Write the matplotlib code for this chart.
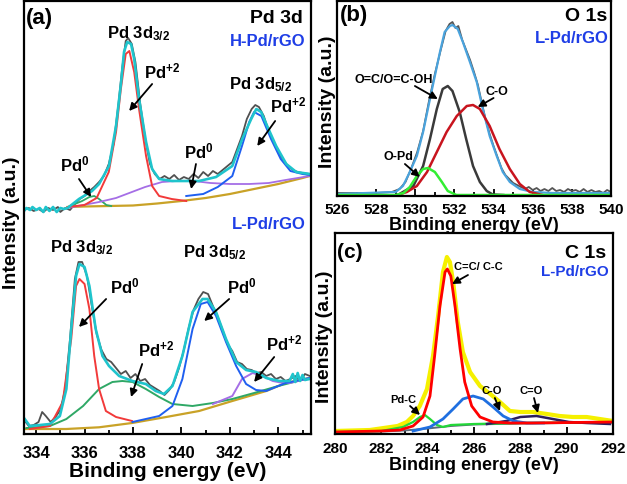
import matplotlib
matplotlib.use("Agg")
import matplotlib.pyplot as plt
from matplotlib.ticker import MultipleLocator

plt.rcParams['font.family'] = ['Liberation Sans', 'DejaVu Sans']
plt.rcParams['font.weight'] = 'bold'
plt.rcParams['mathtext.fontset'] = 'custom'
plt.rcParams['mathtext.rm'] = 'Liberation Sans:bold'
plt.rcParams['mathtext.bf'] = 'Liberation Sans:bold'
plt.rcParams['mathtext.default'] = 'rm'

# ---------------- (a) Pd 3d, H-Pd/rGO (upper spectrum) ----------------
h_raw_e = [333.5, 333.7, 333.9, 334.1, 334.3, 334.5, 334.7, 334.9, 335.0, 335.2, 335.4, 335.6, 335.8,
           336.0, 336.2, 336.4, 336.6, 336.8, 337.0, 337.2, 337.4, 337.55, 337.7, 337.8, 337.95, 338.1,
           338.3, 338.5, 338.7, 338.9, 339.1, 339.3, 339.5, 339.7, 339.9, 340.1, 340.3, 340.5, 340.7,
           340.9, 341.1, 341.3, 341.5, 341.7, 341.9, 342.1, 342.3, 342.5, 342.7, 342.9, 343.05, 343.2,
           343.4, 343.6, 343.8, 344.0, 344.2, 344.4, 344.6, 344.8, 345.0, 345.3]
h_raw_i = [224, 226, 223, 225, 222, 226, 224, 227, 222, 226, 224, 230, 235,
           238, 243, 247, 252, 258, 270, 290, 330, 365, 393, 396, 390, 372,
           330, 296, 270, 260, 255, 258, 255, 259, 254, 257, 255, 260, 256,
           262, 258, 263, 260, 264, 268, 272, 285, 298, 315, 325, 329, 327,
           318, 303, 292, 282, 274, 268, 264, 262, 261, 260]

h_fit_e = [333.5, 333.6, 333.75, 333.85, 334.0, 334.15, 334.3, 334.4, 334.55, 334.7, 334.85, 335.0,
           335.15, 335.3, 335.77, 336.31, 336.6, 337.01, 337.3, 337.51, 337.63, 337.76, 337.92, 338.05,
           338.25, 338.54, 338.79, 339.08, 339.62, 340.73, 341.43, 342.1, 342.51, 342.88, 343.09,
           343.29, 343.54, 343.91, 344.33, 344.74, 345.3]
h_fit_i = [223, 226, 224, 227, 224, 226, 222, 227, 223, 227, 222, 226,
           225, 226, 235, 243, 250, 268, 308, 352, 382, 392, 390, 375,
           335, 292, 265, 255, 253, 253, 257, 268, 295, 315, 325,
           322, 308, 288, 270, 262, 260]

h_red_e = [335.3, 336.0, 336.5, 337.0, 337.3, 337.5, 337.7, 337.85, 338.05, 338.25, 338.54, 338.79,
           339.08, 339.6, 340.2]
h_red_i = [227, 229, 236, 262, 302, 345, 380, 383, 362, 325, 278, 248, 238, 235, 233]

h_green_e = [335.3, 335.9, 336.2, 336.4, 336.6, 336.9, 337.1]
h_green_i = [227, 233, 237, 238, 235, 229, 228]

h_purple_e = [335.3, 336.6, 337.3, 338.5, 339.2, 339.8, 340.5, 341.2, 342.0, 342.8, 343.6, 344.3, 345.3]
h_purple_i = [226, 232, 236, 247, 252, 253, 253, 251, 250, 250, 251, 254, 258]

h_blue_e = [340.2, 340.9, 341.5, 342.1, 342.5, 342.8, 343.0, 343.3, 343.7, 344.1, 344.5, 345.0, 345.3]
h_blue_i = [238, 240, 247, 258, 288, 312, 322, 318, 295, 275, 263, 260, 259]

h_base_e = [335.3, 336.0, 337.0, 338.0, 339.0, 340.0, 341.0, 342.0, 343.0, 344.0, 345.0, 345.3]
h_base_i = [227, 227.5, 228, 228.5, 230.5, 233, 236, 240, 245, 250, 256, 258]

# ---------------- (a) Pd 3d, L-Pd/rGO (lower spectrum) ----------------
l_raw_e = [333.5, 333.7, 333.9, 334.1, 334.25, 334.4, 334.6, 334.8, 335.0, 335.2, 335.4, 335.6, 335.75,
           335.9, 336.1, 336.3, 336.5, 336.7, 336.9, 337.1, 337.3, 337.5, 337.7, 337.9, 338.1, 338.3,
           338.5, 338.7, 338.9, 339.1, 339.3, 339.5, 339.7, 339.9, 340.1, 340.3, 340.5, 340.7, 340.9,
           341.1, 341.3, 341.5, 341.7, 341.9, 342.1, 342.3, 342.5, 342.7, 342.9, 343.1, 343.3, 343.5,
           343.7, 343.9, 344.1, 344.3, 344.5, 344.7, 344.9, 345.1, 345.3]
l_raw_i = [14, 8, 9, 12, 22, 18, 12, 17, 24, 45, 95, 155, 172,
           172, 158, 128, 100, 84, 75, 72, 66, 60, 63, 56, 60, 53,
           55, 49, 46, 43, 39, 44, 52, 66, 84, 106, 124, 135, 142,
           140, 128, 117, 104, 90, 83, 72, 70, 65, 64, 61, 62, 58,
           60, 55, 57, 53, 55, 58, 53, 60, 58]

l_fit_e = [333.53, 333.74, 333.88, 334.57, 334.98, 335.25, 335.45, 335.65, 335.79, 336.0, 336.2, 336.46,
           336.74, 337.01, 337.43, 337.98, 338.53, 338.94, 339.28, 339.63, 340.04, 340.46, 340.87,
           341.08, 341.43, 341.84, 342.26, 342.67, 343.08, 343.5, 344.05, 344.46, 344.6, 344.7, 344.8,
           344.9, 345.0, 345.1, 345.29]
l_fit_i = [15, 8, 8.3, 10, 18, 45, 105, 158, 170, 167, 148, 105,
           78, 68, 58, 53, 50, 43, 40, 48, 78, 122, 135,
           135, 122, 95, 72, 64, 62, 56, 53, 53, 60, 52, 61, 53, 59, 54, 55]

l_red_e = [333.74, 334.57, 335.1, 335.45, 335.65, 335.79, 336.0, 336.2, 336.4, 336.6, 336.88, 337.3, 337.96]
l_red_i = [5, 8, 32, 95, 148, 155, 150, 125, 78, 45, 23, 17, 13]

l_green_e = [333.6, 334.57, 335.25, 335.94, 336.6, 337.15, 337.56, 337.98, 338.53, 339.08, 339.63,
             340.46, 341.3, 342.1, 343.0, 344.0, 345.3]
l_green_i = [6, 8, 15, 28, 45, 52, 53, 52, 45, 37, 30, 28, 31, 35, 41, 48, 56]

l_blue_e = [337.98, 339.08, 339.63, 340.04, 340.46, 340.8, 341.08, 341.43, 341.84, 342.26, 342.67,
            343.08, 343.5, 344.3, 345.3]
l_blue_i = [12, 18, 28, 55, 105, 130, 132, 118, 92, 68, 50, 44, 43, 51, 56]

l_purple_e = [341.3, 342.1, 342.5, 342.94, 343.36, 343.77, 344.2, 344.46, 345.3]
l_purple_i = [30, 38, 55, 61, 58, 53, 51, 51, 56]

l_base_e = [333.53, 335.24, 336.6, 337.96, 339.37, 340.73, 342.1, 343.5, 344.3, 345.28]
l_base_i = [5, 5, 6.7, 11, 17, 23, 33, 43, 51, 56]

# ---------------- (b) O 1s ----------------
o_raw_e = [526, 527, 528, 528.8, 529.2, 529.5, 529.8, 530.1, 530.4, 530.7, 531.0, 531.3, 531.55, 531.75,
           531.9, 532.05, 532.2, 532.4, 532.6, 532.8, 533.0, 533.2, 533.4, 533.6, 533.8, 534.0, 534.2,
           534.4, 534.6, 534.8, 535.0, 535.2, 535.4, 535.6, 535.8, 536.0, 536.2, 536.4, 536.6, 536.8,
           537.0, 537.2, 537.4, 537.6, 537.8, 538.0, 538.2, 538.4, 538.6, 538.8, 539.0, 539.2, 539.4,
           539.6, 539.8, 540]
o_raw_i = [3, 3, 3, 4, 7, 14, 28, 44, 65, 95, 122, 146, 165, 172,
           174, 168, 170, 156, 146, 136, 124, 111, 93, 76, 62, 50, 39,
           28, 21, 17, 13, 11, 9, 7, 9, 6, 8, 5, 7, 5,
           8, 5, 6, 4, 7, 5, 6, 4, 7, 4, 6, 4, 5,
           3, 6, 4]

o_fit_e = [526, 529.0, 529.37, 529.72, 530.08, 530.4, 530.75, 531.0, 531.26, 531.5, 531.77, 531.9,
           532.17, 532.43, 532.79, 533.14, 533.45, 533.8, 534.16, 534.47, 534.83, 535.34, 536.0, 537, 540]
o_fit_i = [2, 4, 10, 24, 40, 64, 97, 120, 144, 164, 170, 171,
           167, 154, 134, 114, 87, 60, 40, 24, 14, 7, 4, 3, 3]

o_black_e = [529.1, 529.9, 530.4, 530.75, 531.1, 531.4, 531.66, 531.9, 532.27, 532.6, 532.95, 533.3,
             533.65, 533.96, 534.5]
o_black_i = [1, 10, 30, 57, 87, 107, 110, 105, 84, 57, 30, 14, 5, 1.5, 1]

o_red_e = [529.1, 529.57, 530.08, 530.6, 531.1, 531.6, 532.12, 532.63, 532.95, 533.3, 533.8, 534.3,
           534.83, 535.34, 535.85, 536.5]
o_red_i = [1, 4, 10, 24, 44, 64, 80, 90, 91, 87, 70, 47, 27, 12, 4, 1]

o_green_e = [526, 529.0, 529.4, 529.72, 530.08, 530.4, 530.65, 531.0, 531.36, 531.66, 532.1, 540]
o_green_i = [1, 1, 3, 9, 20, 27, 28, 24, 14, 5, 1, 1]

# ---------------- (c) C 1s ----------------
c_fit_e = [280.0, 281.5, 282.7, 283.1, 283.37, 283.66, 283.97, 284.23, 284.45, 284.66, 284.83, 284.96,
           285.1, 285.3, 285.52, 285.83, 286.26, 286.7, 287.12, 287.55, 288.0, 288.55, 289.15, 289.7,
           290.27, 290.86, 291.43, 292.0]
c_fit_i = [3, 4, 8, 12, 18, 28, 45, 78, 118, 162, 177, 172,
           152, 112, 82, 62, 48, 40, 32, 23, 22, 22, 20, 18,
           17, 17, 15, 13]

c_red_e = [280.0, 282.0, 282.8, 283.37, 283.8, 284.1, 284.3, 284.53, 284.75, 284.85, 285.0, 285.18, 285.4,
           285.6, 285.9, 286.26, 286.82, 287.55, 288.5, 292.0]
c_red_i = [2, 3, 4, 8, 17, 38, 78, 128, 162, 165, 158, 128, 85,
           52, 28, 17, 12, 11, 11, 12]

c_blue_e = [283.37, 284.1, 284.66, 285.1, 285.52, 285.96, 286.4, 286.82, 287.26, 287.7, 288.28, 289.0]
c_blue_i = [3, 7, 15, 25, 35, 38, 35, 27, 18, 13, 11, 11]

c_navy_e = [286.56, 287.4, 288.0, 288.7, 289.4, 290.1, 290.86, 291.87]
c_navy_i = [10, 13, 17, 18, 15, 12, 11, 10]

c_green_e = [280.0, 282.0, 282.93, 283.37, 283.67, 283.88, 284.1, 284.4, 284.66, 285.0, 286.0, 288.0,
             290.0, 292.0]
c_green_i = [2, 3, 7, 12, 17, 19, 15, 9, 7, 9, 10, 11, 11.5, 12]

c_base_e = [280.0, 282.0, 283.0, 284.0, 285.0, 286.0, 288.0, 290.0, 292.0]
c_base_i = [1.5, 2.5, 3.5, 5.5, 8, 9.5, 10.5, 11, 11.5]

BLUE_TXT = '#1f3ee6'
ARROW = dict(arrowstyle='-|>', color='black', lw=1.3, mutation_scale=11, shrinkA=0, shrinkB=0)


def style_axis(ax, xlo, xhi, ylo, yhi, tick_size, pad):
    ax.set_xlim(xlo, xhi)
    ax.set_ylim(ylo, yhi)
    ax.xaxis.set_major_locator(MultipleLocator(2))
    ax.xaxis.set_minor_locator(MultipleLocator(1))
    ax.set_yticks([])
    ax.tick_params(axis='x', which='both', direction='in', top=False, pad=pad,
                   labelsize=tick_size, width=1.3)
    ax.tick_params(axis='x', which='major', length=5)
    ax.tick_params(axis='x', which='minor', length=3)
    for s in ax.spines.values():
        s.set_linewidth(1.6)
    for lab in ax.get_xticklabels():
        lab.set_fontweight('bold')


def note(ax, text, xy_text, xy_head, xy_tail, size=12):
    ax.text(*xy_text, text, fontsize=size, fontweight='bold', ha='center', va='center')
    ax.annotate('', xy=xy_head, xytext=xy_tail, arrowprops=ARROW)


fig = plt.figure(figsize=(6.27, 4.85), dpi=100)
ax_a = fig.add_axes([24 / 627, 50 / 485, 287 / 627, 433 / 485])
ax_b = fig.add_axes([337 / 627, 288 / 485, 274 / 627, 195 / 485])
ax_c = fig.add_axes([335 / 627, 50 / 485, 278 / 627, 201 / 485])

# ---- panel (a)
ax = ax_a
ax.plot(h_raw_e, h_raw_i, color='#505050', lw=1.3)
ax.plot(h_base_e, h_base_i, color='#c9a227', lw=1.6)
ax.plot(h_green_e, h_green_i, color='#2fa866', lw=1.3)
ax.plot(h_purple_e, h_purple_i, color='#a56ee6', lw=1.3)
ax.plot(h_red_e, h_red_i, color='#f23a3a', lw=1.4)
ax.plot(h_blue_e, h_blue_i, color='#1f5ff0', lw=1.4)
ax.plot(h_fit_e, h_fit_i, color='#1fc4cc', lw=1.9)

ax.plot(l_raw_e, l_raw_i, color='#505050', lw=1.3)
ax.plot(l_base_e, l_base_i, color='#c9a227', lw=1.6)
ax.plot(l_green_e, l_green_i, color='#2fa866', lw=1.4)
ax.plot(l_purple_e, l_purple_i, color='#a56ee6', lw=1.4)
ax.plot(l_red_e, l_red_i, color='#f23a3a', lw=1.4)
ax.plot(l_blue_e, l_blue_i, color='#1f5ff0', lw=1.4)
ax.plot(l_fit_e, l_fit_i, color='#1fc4cc', lw=1.9)

style_axis(ax, 333.5, 345.35, 0, 433, 12, 8)
ax.set_xlabel('Binding energy (eV)', fontsize=15, fontweight='bold')
ax.xaxis.set_label_coords(0.5, -0.062)
ax.set_ylabel('Intensity (a.u.)', fontsize=14, fontweight='bold')
ax.yaxis.set_label_coords(-0.014, 0.49)

ax.text(0.005, 0.962, '(a)', transform=ax.transAxes, fontsize=16, fontweight='bold', ha='left', va='center')
ax.text(0.973, 0.963, 'Pd 3d', transform=ax.transAxes, fontsize=14, fontweight='bold', ha='right', va='center')
ax.text(0.98, 0.908, 'H-Pd/rGO', transform=ax.transAxes, fontsize=12, fontweight='bold',
        color=BLUE_TXT, ha='right', va='center')
ax.text(0.98, 0.487, 'L-Pd/rGO', transform=ax.transAxes, fontsize=12, fontweight='bold',
        color=BLUE_TXT, ha='right', va='center')

ax.text(338.25, 401, 'Pd 3d$_{3/2}$', fontsize=12, fontweight='bold', ha='center', va='center')
ax.text(343.25, 350, 'Pd 3d$_{5/2}$', fontsize=12, fontweight='bold', ha='center', va='center')
note(ax, 'Pd$^{+2}$', (339.2, 364), (337.84, 323), (338.79, 350))
note(ax, 'Pd$^{+2}$', (344.4, 330), (343.13, 288), (343.87, 313))
note(ax, 'Pd$^{0}$', (340.7, 284), (340.4, 245), (340.6, 270))
note(ax, 'Pd$^{0}$', (335.6, 271), (336.27, 237), (335.77, 255))

ax.text(335.86, 187, 'Pd 3d$_{3/2}$', fontsize=12, fontweight='bold', ha='center', va='center')
ax.text(341.35, 182, 'Pd 3d$_{5/2}$', fontsize=12, fontweight='bold', ha='center', va='center')
note(ax, 'Pd$^{0}$', (337.65, 149), (335.77, 107), (336.89, 135))
note(ax, 'Pd$^{+2}$', (338.95, 86), (337.92, 37), (338.38, 70))
note(ax, 'Pd$^{0}$', (342.5, 149), (340.94, 113), (341.97, 135))
note(ax, 'Pd$^{+2}$', (344.25, 92), (343.0, 52), (343.83, 77))

# ---- panel (b)
ax = ax_b
ax.plot(o_raw_e, o_raw_i, color='#555555', lw=1.3)
ax.plot(o_fit_e, o_fit_i, color='#4aa3dd', lw=1.6)
ax.plot(o_black_e, o_black_i, color='#3a3a3a', lw=1.8)
ax.plot(o_red_e, o_red_i, color='#c8141e', lw=1.8)
ax.plot(o_green_e, o_green_i, color='#33ee33', lw=1.8)
style_axis(ax, 526, 540, 0, 195, 11, 4)
ax.set_xlabel('Binding energy (eV)', fontsize=13, fontweight='bold')
ax.xaxis.set_label_coords(0.5, -0.1)
ax.set_ylabel('Intensity (a.u.)', fontsize=14, fontweight='bold')
ax.yaxis.set_label_coords(-0.005, 0.49)
ax.text(0.01, 0.93, '(b)', transform=ax.transAxes, fontsize=16, fontweight='bold', ha='left', va='center')
ax.text(0.985, 0.925, 'O 1s', transform=ax.transAxes, fontsize=14, fontweight='bold', ha='right', va='center')
ax.text(0.99, 0.815, 'L-Pd/rGO', transform=ax.transAxes, fontsize=12, fontweight='bold',
        color=BLUE_TXT, ha='right', va='center')
note(ax, 'O=C/O=C-OH', (528.9, 117), (531.15, 97), (529.98, 110), size=9)
note(ax, 'C-O', (534.16, 105), (533.19, 89), (534.0, 98), size=9)
note(ax, 'O-Pd', (529.16, 40), (530.23, 19), (529.47, 32), size=9)

# ---- panel (c)
ax = ax_c
ax.plot(c_fit_e, c_fit_i, color='#f5f000', lw=3.0)
ax.plot(c_base_e, c_base_i, color='#5d6b7a', lw=1.4)
ax.plot(c_green_e, c_green_i, color='#22d838', lw=1.6)
ax.plot(c_navy_e, c_navy_i, color='#2b1d5c', lw=1.8)
ax.plot(c_blue_e, c_blue_i, color='#1f6fe0', lw=2.0)
ax.plot(c_red_e, c_red_i, color='#ff0000', lw=2.0)
style_axis(ax, 280, 292, 0, 201, 11, 5)
ax.set_xlabel('Binding energy (eV)', fontsize=13, fontweight='bold')
ax.xaxis.set_label_coords(0.5, -0.108)
ax.set_ylabel('Intensity (a.u.)', fontsize=14, fontweight='bold')
ax.yaxis.set_label_coords(-0.008, 0.49)
ax.text(0.007, 0.91, '(c)', transform=ax.transAxes, fontsize=15, fontweight='bold', ha='left', va='center')
ax.text(0.975, 0.905, 'C 1s', transform=ax.transAxes, fontsize=14, fontweight='bold', ha='right', va='center')
ax.text(0.985, 0.81, 'L-Pd/rGO', transform=ax.transAxes, fontsize=11, fontweight='bold',
        color=BLUE_TXT, ha='right', va='center')
note(ax, 'C=C/ C-C', (286.17, 168), (285.05, 150), (285.74, 159), size=8)
note(ax, 'C-O', (286.78, 44), (287.12, 23), (286.9, 36), size=8)
note(ax, 'C=O', (288.46, 44), (288.76, 21), (288.59, 36), size=8)
note(ax, 'Pd-C', (282.93, 35), (283.67, 19), (283.24, 28), size=8)

fig.savefig('out.png', dpi=100)
